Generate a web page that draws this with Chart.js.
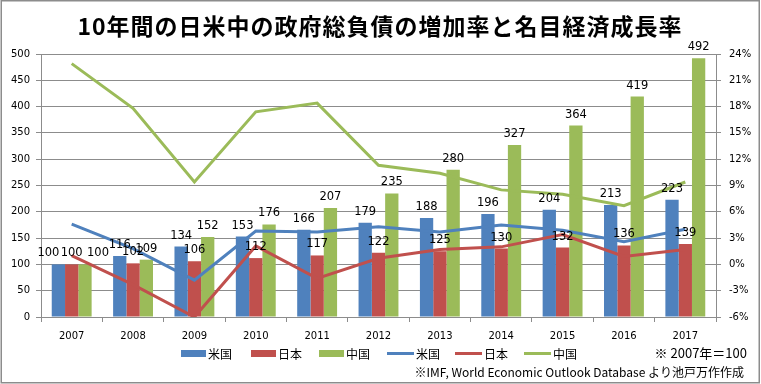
<!DOCTYPE html>
<html>
<head>
<meta charset="utf-8">
<script src="https://cdn.jsdelivr.net/npm/chart.js@4.4.1/dist/chart.umd.min.js"></script>
<style>
  html, body { margin: 0; padding: 0; background: #fff; }
  canvas { display: block; }
</style>
</head>
<body>
<canvas id="grafica" width="761" height="384"></canvas>
<script>
const anios = ['2007', '2008', '2009', '2010', '2011', '2012', '2013', '2014', '2015', '2016', '2017'];

// 政府総負債 (2007年 = 100)
const deudaUSA = [100, 116, 134, 153, 166, 179, 188, 196, 204, 213, 223];
const deudaJPN = [100, 102, 106, 112, 117, 122, 125, 130, 132, 136, 139];
const deudaCHN = [100, 109, 152, 176, 207, 235, 280, 327, 364, 419, 492];

// 名目経済成長率 (%)
const crecUSA = [4.6, 1.8, -1.8, 3.8, 3.7, 4.3, 3.7, 4.5, 3.9, 2.6, 4.0];
const crecJPN = [1.0, -2.3, -6.0, 2.1, -1.6, 0.7, 1.7, 2.0, 3.4, 0.9, 1.7];
const crecCHN = [22.9, 17.8, 9.4, 17.4, 18.4, 11.3, 10.4, 8.5, 8.0, 6.7, 9.4];

const ticksIzq = { min: 0, max: 500, paso: 50 };
const ticksDer = { min: -6, max: 24, paso: 3 };

const titulo = '10年間の日米中の政府総負債の増加率と名目経済成長率';
const nombres = ['米国', '日本', '中国'];
const nota1 = '※ 2007年＝100';
const nota2 = '※IMF, World Economic Outlook Database より池戸万作作成';

const azul = '#4f81bd';
const rojo = '#c0504d';
const verde = '#9bbb59';
const gris = '#8c8c8c';
const fuenteJP = '"Noto Sans CJK JP", "Noto Sans", sans-serif';

// etiquetas de valor sobre las barras
const etiquetas = {
  id: 'etiquetas',
  afterDatasetsDraw(chart) {
    const ctx = chart.ctx;
    ctx.save();
    ctx.font = '11.5px "DejaVu Sans", sans-serif';
    ctx.fillStyle = '#000';
    ctx.textAlign = 'center';
    ctx.textBaseline = 'alphabetic';
    // en 2007 las tres etiquetas se separan para no taparse
    const separar = [-10, 0, 13];
    let k = 0;
    chart.data.datasets.forEach((ds, i) => {
      if (ds.type !== 'bar') return;
      chart.getDatasetMeta(i).data.forEach((bar, j) => {
        const dx = j === 0 ? separar[k] : 0;
        ctx.fillText(ds.data[j], bar.x + dx, bar.y - 8);
      });
      k++;
    });
    ctx.restore();
  }
};

// título, leyenda, notas y marco
const decoracion = {
  id: 'decoracion',
  afterDraw(chart) {
    const ctx = chart.ctx;
    ctx.save();

    ctx.fillStyle = '#000';
    ctx.font = 'bold 23px ' + fuenteJP;
    ctx.letterSpacing = '1px';
    ctx.textAlign = 'center';
    ctx.textBaseline = 'middle';
    ctx.fillText(titulo, 380, 26);
    ctx.letterSpacing = '0px';

    ctx.font = '12px ' + fuenteJP;
    ctx.textAlign = 'left';
    const colores = [azul, rojo, verde];
    const inicioBarra = [181, 251, 319];
    const inicioLinea = [387, 455, 524];
    for (let i = 0; i < 3; i++) {
      ctx.fillStyle = colores[i];
      ctx.fillRect(inicioBarra[i], 350, 25, 7);
      ctx.fillStyle = '#000';
      ctx.fillText(nombres[i], inicioBarra[i] + 27, 354);

      ctx.strokeStyle = colores[i];
      ctx.lineWidth = 3;
      ctx.beginPath();
      ctx.moveTo(inicioLinea[i], 353.5);
      ctx.lineTo(inicioLinea[i] + 27, 353.5);
      ctx.stroke();
      ctx.fillText(nombres[i], inicioLinea[i] + 29, 354);
    }

    ctx.textAlign = 'right';
    ctx.font = '13px ' + fuenteJP;
    ctx.fillText(nota1, 747, 353);
    ctx.font = '12px ' + fuenteJP;
    ctx.fillText(nota2, 744, 372);

    ctx.strokeStyle = gris;
    ctx.lineWidth = 1.5;
    ctx.strokeRect(1.25, 0.75, 758, 382);
    ctx.restore();
  }
};

const config = {
  data: {
    labels: anios,
    datasets: [
      { type: 'bar', label: '米国', data: deudaUSA, backgroundColor: azul, yAxisID: 'y', order: 2 },
      { type: 'bar', label: '日本', data: deudaJPN, backgroundColor: rojo, yAxisID: 'y', order: 2 },
      { type: 'bar', label: '中国', data: deudaCHN, backgroundColor: verde, yAxisID: 'y', order: 2 },
      { type: 'line', label: '米国', data: crecUSA, borderColor: azul, borderWidth: 3, pointRadius: 0, tension: 0, yAxisID: 'y1', order: 1 },
      { type: 'line', label: '日本', data: crecJPN, borderColor: rojo, borderWidth: 3, pointRadius: 0, tension: 0, yAxisID: 'y1', order: 1 },
      { type: 'line', label: '中国', data: crecCHN, borderColor: verde, borderWidth: 3, pointRadius: 0, tension: 0, yAxisID: 'y1', order: 1 }
    ]
  },
  options: {
    responsive: false,
    animation: false,
    layout: { padding: { top: 54, left: 0, right: 0, bottom: 0 } },
    datasets: {
      bar: { categoryPercentage: 0.65, barPercentage: 1.0 }
    },
    plugins: {
      legend: { display: false },
      title: { display: false },
      tooltip: { enabled: false }
    },
    scales: {
      x: {
        offset: true,
        grid: { offset: true, drawOnChartArea: false, color: gris, tickLength: 5 },
        border: { color: gris },
        ticks: { color: '#000', font: { family: '"DejaVu Sans"', size: 10 }, padding: 8, maxRotation: 0 },
        afterFit(scale) { scale.height = 67; }
      },
      y: {
        position: 'left',
        min: ticksIzq.min,
        max: ticksIzq.max,
        grid: { color: gris, tickLength: 5 },
        border: { color: gris },
        ticks: { stepSize: ticksIzq.paso, color: '#000', font: { family: '"DejaVu Sans"', size: 10 }, padding: 6 },
        afterFit(scale) { scale.width = 41; }
      },
      y1: {
        position: 'right',
        min: ticksDer.min,
        max: ticksDer.max,
        grid: { drawOnChartArea: false, color: gris, tickLength: 5 },
        border: { color: gris },
        ticks: {
          stepSize: ticksDer.paso,
          color: '#000',
          font: { family: '"DejaVu Sans"', size: 10 },
          padding: 8,
          callback: (v) => v + '%'
        },
        afterFit(scale) { scale.width = 45; }
      }
    }
  },
  plugins: [etiquetas, decoracion]
};

new Chart(document.getElementById('grafica'), config);
</script>
</body>
</html>
